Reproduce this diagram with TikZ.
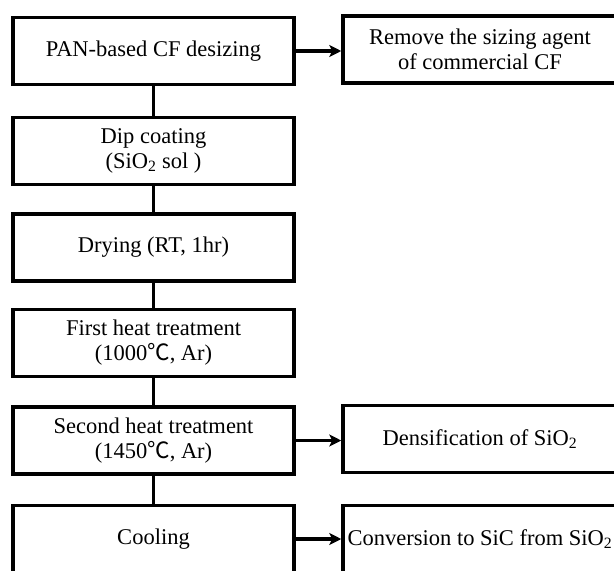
\documentclass[tikz,border=0pt]{standalone}
\usepackage{fontspec}
\setmainfont{Liberation Serif}
\newfontfamily\cjk{Noto Sans CJK SC}
\usetikzlibrary{arrows.meta}
\newcommand{\degc}{{\cjk ℃}}

\begin{document}
\begin{tikzpicture}[x=1pt, y=1pt, >={Stealth[length=12pt,width=12pt,inset=3pt]},
  font=\fontsize{22.5}{25}\selectfont,
  stepbox/.style={draw, line width=3.5pt, minimum width=281pt, minimum height=67pt, align=center, inner sep=0pt},
  notebox/.style={draw, line width=3.5pt, minimum width=274pt, minimum height=67pt, align=center, inner sep=0pt},
  link/.style={line width=3.5pt}]

\useasboundingbox (0,0) rectangle (614,-571);

% ---------- process steps ----------
\node[stepbox] (desize) at (153.5,-51) {PAN-based CF desizing};
\node[stepbox] (dip) at (153.5,-151) {Dip coating\\(SiO\textsubscript{2} sol )};
\node[stepbox] (dry) at (153.5,-247.5) {Drying (RT, 1hr)};
\node[stepbox] (heatone) at (153.5,-343) {First heat treatment\\(1000\degc, Ar)};
\node[stepbox] (heattwo) at (153.5,-440.5) {Second heat treatment\\(1450\degc, Ar)};
\node[stepbox] (cool) at (153.5,-539) {Cooling};

% ---------- notes ----------
\node[notebox] (remove) at (480,-49.5) {Remove the sizing agent\\of commercial CF};
\node[notebox] (densify) at (480,-439) {Densification of SiO\textsubscript{2}};
\node[notebox] (convert) at (480,-539) {Conversion to SiC from SiO\textsubscript{2}};

% ---------- connectors ----------
\draw[link] (desize) -- (dip);
\draw[link] (dip) -- (dry);
\draw[link] (dry) -- (heatone);
\draw[link] (heatone) -- (heattwo);
\draw[link] (heattwo) -- (cool);

\draw[link,->] (desize.east) -- (desize.east -| remove.west);
\draw[link,->] (heattwo.east) -- (heattwo.east -| densify.west);
\draw[link,->] (cool.east) -- (cool.east -| convert.west);

\end{tikzpicture}
\end{document}
